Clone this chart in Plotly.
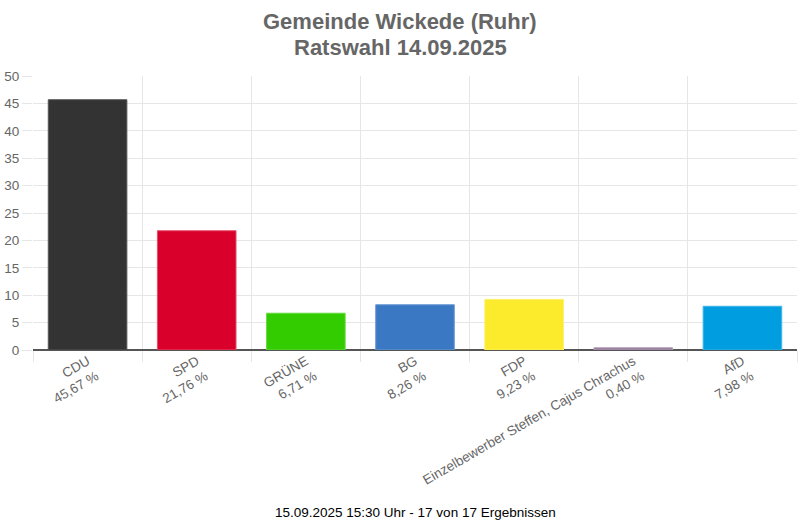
import plotly.graph_objects as go

parties = ["CDU", "SPD", "GRÜNE", "BG", "FDP", "Einzelbewerber Steffen, Cajus Chrachus", "AfD"]
values = [45.67, 21.76, 6.71, 8.26, 9.23, 0.40, 7.98]
colors = ["#333333", "#d9002b", "#33cc00", "#3a78c3", "#fcea2c", "#94789a", "#009ee0"]
borders = ["#555555", "#e44d6a", "#66d940", "#6a9ad3", "#fdf06a", "#b09ab3", "#40b6e8"]

labels = [f"{p}<br>{str(f'{v:.2f}').replace('.', ',')} %" for p, v in zip(parties, values)]

fig = go.Figure(go.Bar(
    x=labels, y=values,
    marker=dict(color=colors, line=dict(color=borders, width=1)),
    hoverinfo="skip",
))

fig.update_layout(
    width=800, height=526,
    margin=dict(l=33, r=3, t=76, b=176),
    paper_bgcolor="white", plot_bgcolor="white",
    font=dict(family="Liberation Sans, Arial, sans-serif", color="#666666", size=13.5),
    bargap=0.28,
    showlegend=False,
)
fig.update_xaxes(
    type="category", tickson="boundaries", showgrid=True, gridcolor="#e6e6e6",
    ticks="outside", ticklen=11, tickcolor="#e6e6e6", tickangle=-30,
    tickfont=dict(size=13.5, color="#666666"),
    showline=False, zeroline=False, automargin=False,
)
fig.update_yaxes(
    range=[0, 50], dtick=5, showgrid=True, gridcolor="#e6e6e6",
    zeroline=True, zerolinecolor="#555555", zerolinewidth=2,
    ticks="outside", ticklen=10, tickcolor="#e6e6e6",
    tickfont=dict(size=13.5, color="#666666"),
    showline=False, automargin=False,
)
title_x = (400 - 33) / 764
fig.add_annotation(
    text="<b>Gemeinde Wickede (Ruhr)</b>",
    xref="paper", yref="paper", x=title_x, y=(350 - 22) / 274, xanchor="center", yanchor="middle",
    showarrow=False, font=dict(size=22, color="#666666"),
)
fig.add_annotation(
    text="<b>Ratswahl 14.09.2025</b>",
    xref="paper", yref="paper", x=title_x, y=(350 - 48) / 274, xanchor="center", yanchor="middle",
    showarrow=False, font=dict(size=22, color="#666666"),
)
fig.add_annotation(
    text="15.09.2025 15:30 Uhr - 17 von 17 Ergebnissen",
    xref="paper", yref="paper", x=0.5, y=(350 - 512) / 274, xanchor="center", yanchor="middle",
    showarrow=False, font=dict(size=13.5, color="#000000"),
)
fig.write_html(
    "out.html",
    config={"displayModeBar": False},
    post_script="document.body.style.margin='0';document.body.style.overflow='hidden';",
)
